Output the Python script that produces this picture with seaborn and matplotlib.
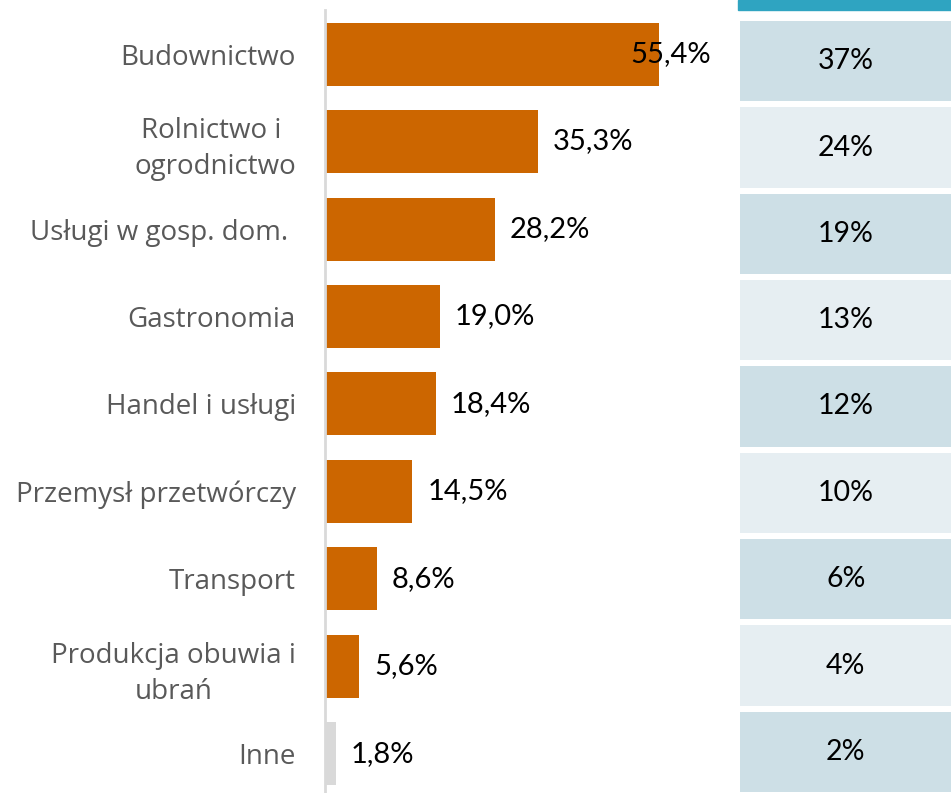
import numpy as np
import pandas as pd
import matplotlib
matplotlib.use("Agg")
import matplotlib.pyplot as plt
from matplotlib.colors import ListedColormap
from matplotlib.patches import Rectangle
import seaborn as sns

# data
categories = ["Budownictwo", "Rolnictwo i \nogrodnictwo", "Usługi w gosp. dom. ",
              "Gastronomia", "Handel i usługi", "Przemysł przetwórczy",
              "Transport", "Produkcja obuwia i\nubrań", "Inne"]
values = [55.4, 35.3, 28.2, 19.0, 18.4, 14.5, 8.6, 5.6, 1.8]
value_labels = ["55,4%", "35,3%", "28,2%", "19,0%", "18,4%", "14,5%", "8,6%", "5,6%", "1,8%"]
share_labels = ["37%", "24%", "19%", "13%", "12%", "10%", "6%", "4%", "2%"]

orange = "#CC6600"
grey = "#D9D9D9"
bar_colors = [orange] * 8 + [grey]

sns.set_theme(style="white")
plt.rcParams["font.family"] = ["Open Sans", "DejaVu Sans"]

W, H = 951, 793
fig = plt.figure(figsize=(W / 100, H / 100), dpi=100)

# bar axes: starts at px 325, spans 10 .. 793 vertically
px_per_unit = 6.03
ax = fig.add_axes([325 / W, 0, 412 / W, (H - 10) / H])
df = pd.DataFrame({"cat": categories, "val": values})
sns.barplot(data=df, y="cat", x="val", hue="cat", palette=bar_colors,
            orient="h", width=0.72, saturation=1, linewidth=0,
            legend=False, ax=ax)
ax.set_xlim(0, 412 / px_per_unit)
ax.set_ylim(8.446, -0.503)
ax.set_xlabel("")
ax.set_ylabel("")
ax.set_xticks([])
for s in ["top", "right", "bottom"]:
    ax.spines[s].set_visible(False)
ax.spines["left"].set_color(grey)
ax.spines["left"].set_linewidth(2)
ax.tick_params(axis="y", length=0, pad=21, labelsize=20, labelcolor="#595959")
for lab in ax.get_yticklabels():
    lab.set_multialignment("center")
    lab.set_linespacing(1.4)

for i, (v, t) in enumerate(zip(values, value_labels)):
    ax.text(min(v + 2.5, 50.7), i, t, va="center", ha="left",
            fontsize=21, color="black", family=["Lato", "DejaVu Sans"])

# side table as a one-column heatmap
n = len(share_labels)
parity = np.array([[i % 2] for i in range(n)])
tab = fig.add_axes([736.5 / W, -2 / H, (W - 736.5 + 4) / W, (H - 16) / H])
sns.heatmap(parity, ax=tab, cmap=ListedColormap(["#CDDFE6", "#E6EEF2"]),
            cbar=False, linewidths=3, linecolor="white",
            annot=np.array(share_labels).reshape(-1, 1), fmt="",
            annot_kws={"fontsize": 20.5, "color": "black", "family": ["Lato", "DejaVu Sans"]})
tab.set_xticks([])
tab.set_yticks([])

# teal header strip above the table
fig.patches.append(Rectangle((738 / W, (H - 10) / H), (W - 738) / W, 10 / H,
                             transform=fig.transFigure, color="#2FA4C1"))

fig.savefig("out.png", dpi=100)
